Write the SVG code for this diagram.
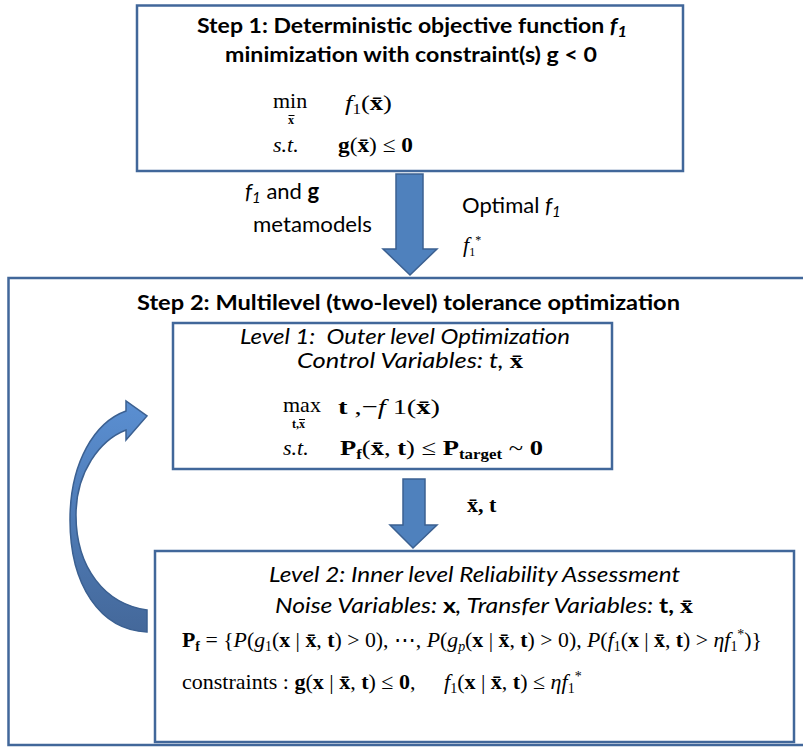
<svg xmlns="http://www.w3.org/2000/svg" width="803" height="747" viewBox="0 0 803 747">
<style>
.box{fill:#fff;stroke:#41679a;stroke-width:2.5}
.arr{fill:#4f81bd;stroke:#3b6091;stroke-width:1.5}
.h{font-family:Lato,"Liberation Sans",sans-serif;font-weight:bold;font-size:21px;fill:#000}
.s{font-family:Lato,"Liberation Sans",sans-serif;font-size:22px;fill:#000}
.it{font-family:Lato,"Liberation Sans",sans-serif;font-style:italic;font-size:21px;fill:#000}
.m{font-family:"Liberation Serif",serif;font-size:22px;fill:#000}
.b{font-weight:bold}
.i{font-style:italic}
.n{font-style:normal}
.bar{stroke:#000;stroke-width:1}
</style>
<defs>
<linearGradient id="cg" x1="0" y1="0" x2="0" y2="1">
<stop offset="0" stop-color="#5a8fd2"/>
<stop offset="1" stop-color="#44689a"/>
</linearGradient>
</defs>

<g id="outer">
<rect class="box" x="8.5" y="278" width="830" height="467"/>
<text class="h" x="137" y="310" textLength="543" lengthAdjust="spacingAndGlyphs">Step 2: Multilevel (two-level) tolerance optimization</text>
</g>

<g id="step1">
<rect class="box" x="137" y="5.5" width="546" height="165.5"/>
<text class="h" x="197" y="33" textLength="430" lengthAdjust="spacingAndGlyphs">Step 1: Deterministic objective function <tspan class="i">f<tspan dy="4" font-size="15">1</tspan></tspan></text>
<text class="h" x="225" y="62" textLength="372" lengthAdjust="spacingAndGlyphs">minimization with constraint(s) g &lt; 0</text>
<text class="m" x="273" y="108">min<tspan class="b" x="288" dy="16" font-size="12">x</tspan></text>
<line class="bar" x1="288.5" y1="115.5" x2="294.5" y2="115.5"/>
<text class="m" x="345" y="110" textLength="47" lengthAdjust="spacingAndGlyphs"><tspan class="i">f</tspan><tspan dy="4" font-size="14">1</tspan><tspan dy="-4">(</tspan><tspan class="b">x̄</tspan>)</text>
<text class="m i" x="273" y="152">s.t.</text>
<text class="m" x="338" y="152" textLength="75" lengthAdjust="spacingAndGlyphs"><tspan class="b">g</tspan>(<tspan class="b">x̄</tspan>) ≤ <tspan class="b">0</tspan></text>
</g>

<g id="level1">
<rect class="box" x="173" y="323" width="439" height="146"/>
<text class="it" x="240" y="344" textLength="330" lengthAdjust="spacingAndGlyphs">Level 1:&#160; Outer level Optimization</text>
<text class="it" x="297" y="368" textLength="226" lengthAdjust="spacingAndGlyphs">Control Variables: t, <tspan class="m b n">x̄</tspan></text>
<text class="m" x="283" y="412">max<tspan class="b" x="292" dy="16" font-size="12">t,x</tspan></text>
<line class="bar" x1="299" y1="419.5" x2="305" y2="419.5"/>
<text class="m" x="338" y="414" textLength="102" lengthAdjust="spacingAndGlyphs"><tspan class="b">t</tspan> ,−<tspan class="i">f</tspan> 1(<tspan class="b">x̄</tspan>)</text>
<text class="m i" x="283" y="455">s.t.</text>
<text class="m" x="340" y="455" textLength="203" lengthAdjust="spacingAndGlyphs"><tspan class="b">P</tspan><tspan class="b" dy="4" font-size="14">f</tspan><tspan dy="-4">(</tspan><tspan class="b">x̄</tspan>, <tspan class="b">t</tspan>) ≤ <tspan class="b">P</tspan><tspan class="b" dy="4" font-size="14">target</tspan><tspan dy="-4"> ~ </tspan><tspan class="b">0</tspan></text>
</g>

<g id="level2">
<rect class="box" x="155" y="551" width="639" height="191"/>
<text class="it" x="269" y="582" textLength="411" lengthAdjust="spacingAndGlyphs">Level 2: Inner level Reliability Assessment</text>
<text class="it" x="275" y="613" textLength="418" lengthAdjust="spacingAndGlyphs">Noise Variables: <tspan class="b n">x</tspan>, Transfer Variables: <tspan class="b n">t, </tspan><tspan class="m b n">x̄</tspan></text>
<text class="m" x="182" y="647" textLength="580" lengthAdjust="spacingAndGlyphs"><tspan class="b">P</tspan><tspan class="b" dy="4" font-size="14">f</tspan><tspan dy="-4"> = {</tspan><tspan class="i">P</tspan>(<tspan class="i">g</tspan><tspan dy="4" font-size="14">1</tspan><tspan dy="-4">(</tspan><tspan class="b">x</tspan> | <tspan class="b">x̄</tspan>, <tspan class="b">t</tspan>) &gt; 0), ⋯, <tspan class="i">P</tspan>(<tspan class="i">g</tspan><tspan dy="4" font-size="14" class="i">p</tspan><tspan dy="-4">(</tspan><tspan class="b">x</tspan> | <tspan class="b">x̄</tspan>, <tspan class="b">t</tspan>) &gt; 0), <tspan class="i">P</tspan>(<tspan class="i">f</tspan><tspan dy="4" font-size="14">1</tspan><tspan dy="-4">(</tspan><tspan class="b">x</tspan> | <tspan class="b">x̄</tspan>, <tspan class="b">t</tspan>) &gt; <tspan class="i">ηf</tspan><tspan dy="4" font-size="14">1</tspan><tspan dy="-12" font-size="14">*</tspan><tspan dy="8">)}</tspan></text>
<text class="m" x="182" y="689">constraints : <tspan class="b">g</tspan>(<tspan class="b">x</tspan> | <tspan class="b">x̄</tspan>, <tspan class="b">t</tspan>) ≤ <tspan class="b">0</tspan>,</text>
<text class="m" x="444" y="689"><tspan class="i">f</tspan><tspan dy="4" font-size="14">1</tspan><tspan dy="-4">(</tspan><tspan class="b">x</tspan> | <tspan class="b">x̄</tspan>, <tspan class="b">t</tspan>) ≤ <tspan class="i">ηf</tspan><tspan dy="4" font-size="14">1</tspan><tspan dy="-12" font-size="14">*</tspan></text>
</g>

<g id="connectors">
<path class="arr" d="M396,174 H423 V249 H437 L410,275 L383,249 H396 Z"/>
<path class="arr" d="M403,479 H425 V525 H437 L413,548 L390,525 H403 Z"/>
<path d="M147,632 C100,630 70,585 70,520 C70,462 95,422 126,411 L126,401 L147,416 L126,440 L126,430 C100,440 76,472 76,515 C76,568 105,604 147,610 Z" fill="url(#cg)" stroke="#3b6091" stroke-width="1.5"/>
<text class="s" x="245" y="199"><tspan class="i">f</tspan><tspan class="i" dy="4" font-size="15">1</tspan><tspan dy="-4"> and </tspan><tspan class="b">g</tspan></text>
<text class="s" x="253" y="232" textLength="119" lengthAdjust="spacingAndGlyphs">metamodels</text>
<text class="s" x="462" y="213">Optimal <tspan class="i">f</tspan><tspan class="i" dy="4" font-size="15">1</tspan></text>
<text class="m" x="463" y="252" font-size="20"><tspan class="i">f</tspan><tspan dy="4" font-size="12">1</tspan><tspan dy="-12" font-size="12">*</tspan></text>
<text class="m b" x="467" y="512">x̄, t</text>
</g>
</svg>
